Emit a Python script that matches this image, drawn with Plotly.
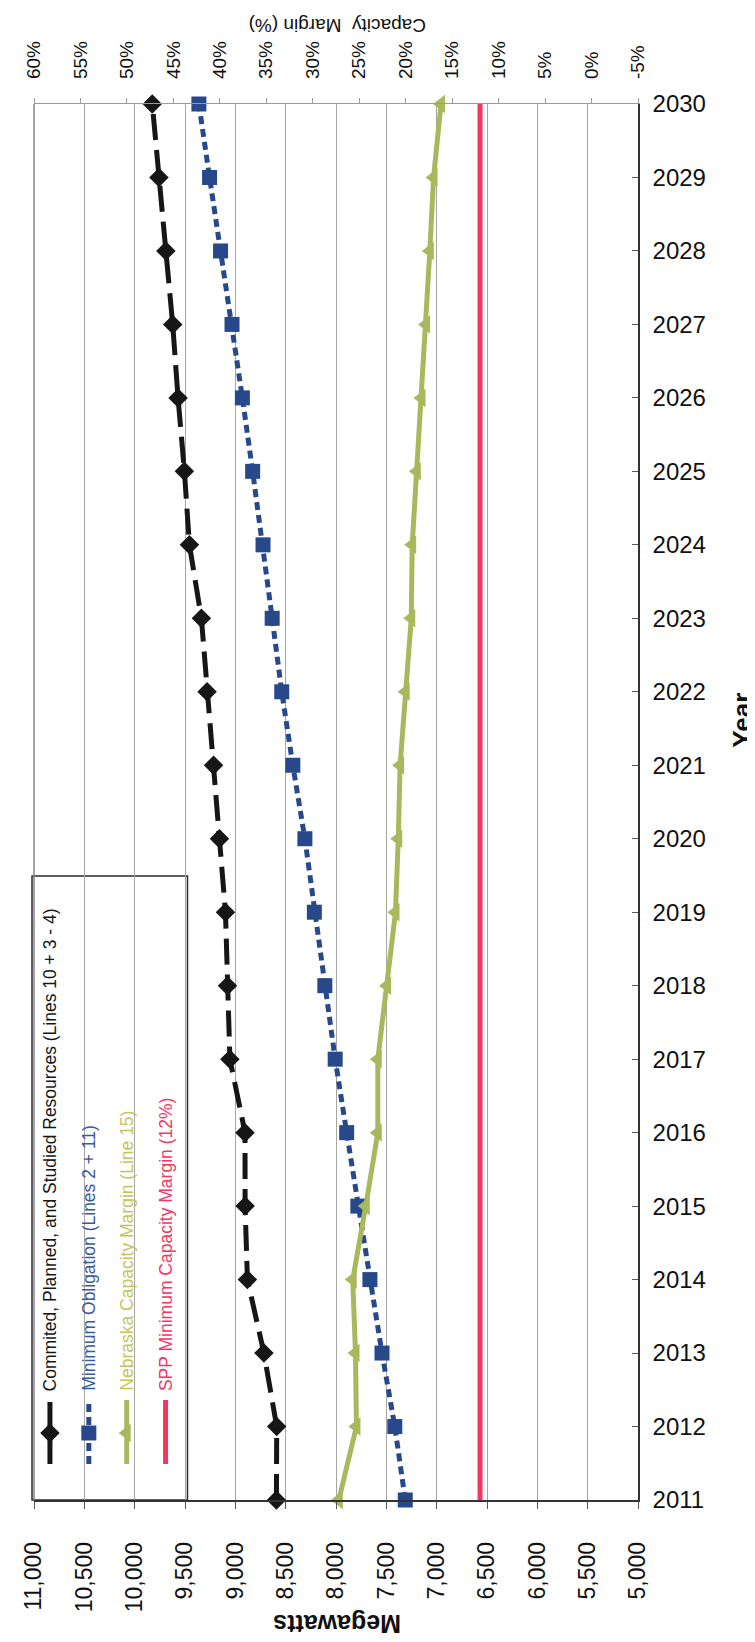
import plotly.graph_objects as go

# ---------------- data ----------------
years = [2011, 2012, 2013, 2014, 2015, 2016, 2017, 2018, 2019, 2020,
         2021, 2022, 2023, 2024, 2025, 2026, 2027, 2028, 2029, 2030]
resources_mw = [8592, 8589, 8716, 8880, 8903, 8904, 9054, 9078, 9098, 9158,
                9216, 9281, 9337, 9456, 9506, 9569, 9622, 9690, 9759, 9825]
obligation_mw = [7312, 7416, 7543, 7663, 7783, 7894, 8008, 8111, 8215, 8309,
                 8429, 8539, 8634, 8725, 8828, 8930, 9033, 9147, 9256, 9362]
nebraska_margin_pct = [27.2, 25.3, 25.4, 25.7, 24.3, 23.0, 23.0, 22.0, 21.1, 20.8,
                       20.6, 20.0, 19.4, 19.3, 18.8, 18.3, 17.8, 17.4, 17.0, 16.2]
spp_min_margin_pct = [12, 12, 12, 12, 12, 12, 12, 12, 12, 12,
                      12, 12, 12, 12, 12, 12, 12, 12, 12, 12]

mw_ticks = [11000, 10500, 10000, 9500, 9000, 8500, 8000, 7500, 7000, 6500, 6000, 5500, 5000]
mw_labels = ["11,000", "10,500", "10,000", "9,500", "9,000", "8,500", "8,000",
             "7,500", "7,000", "6,500", "6,000", "5,500", "5,000"]
pct_ticks = [60, 55, 50, 45, 40, 35, 30, 25, 20, 15, 10, 5, 0, -5]
pct_labels = ["60%", "55%", "50%", "45%", "40%", "35%", "30%", "25%", "20%",
              "15%", "10%", "5%", "0%", "-5%"]
year_labels = [str(y) for y in years]

legend_labels = [
    "Commited, Planned, and Studied Resources (Lines 10 + 3 - 4)",
    "Minimum Obligation (Lines 2 + 11)",
    "Nebraska Capacity Margin (Line 15)",
    "SPP Minimum Capacity Margin (12%)",
]

# ---------------- styles ----------------
FONT = "Liberation Sans, Arial, Helvetica, sans-serif"
BLACK = "#161616"
BLUE = "#27498C"
GREEN = "#A8B85C"
RED = "#F5365F"
TXT_BLUE = "#3A5A9C"
TXT_GREEN = "#C4C45A"

styles = [
    dict(line=dict(color=BLACK, width=5, dash="26px,10px"),
         marker=dict(symbol="diamond", size=15, color=BLACK), mode="lines+markers"),
    dict(line=dict(color=BLUE, width=5, dash="8px,5px"),
         marker=dict(symbol="square", size=15, color=BLUE), mode="lines+markers"),
    dict(line=dict(color=GREEN, width=5),
         marker=dict(symbol="triangle-left", size=16, color=GREEN), mode="lines+markers"),
    dict(line=dict(color=RED, width=5), mode="lines"),
]

fig = go.Figure()

fig.add_trace(go.Scatter(x=resources_mw, y=years, xaxis="x", yaxis="y",
                         cliponaxis=False, **styles[0]))
fig.add_trace(go.Scatter(x=obligation_mw, y=years, xaxis="x", yaxis="y",
                         cliponaxis=False, **styles[1]))
fig.add_trace(go.Scatter(x=nebraska_margin_pct, y=years, xaxis="x2", yaxis="y",
                         cliponaxis=False, **styles[2]))
fig.add_trace(go.Scatter(x=spp_min_margin_pct, y=years, xaxis="x2", yaxis="y",
                         cliponaxis=False, **styles[3]))

# ---------------- rotated legend (drawn manually) ----------------
W, H = 606.0, 1396.0
L, B = 24.0, 1492.0
def px_x(p):
    return (p - L) / W
def px_y(p):
    return (B - p) / H

legend_cols = [40, 79, 117, 156]
legend_text_colors = [BLACK, TXT_BLUE, TXT_GREEN, RED]
sample_top, sample_bot, sample_mid, text_start = 1392, 1456, 1425, 1385

for i, col in enumerate(legend_cols):
    st = styles[i]
    fig.add_trace(go.Scatter(x=[px_x(col), px_x(col)], y=[px_y(sample_bot), px_y(sample_top)],
                             xaxis="x3", yaxis="y3", mode="lines", line=st["line"],
                             hoverinfo="skip", cliponaxis=False))
    if "marker" in st:
        fig.add_trace(go.Scatter(x=[px_x(col)], y=[px_y(sample_mid)], xaxis="x3", yaxis="y3",
                                 mode="markers", marker=st["marker"], hoverinfo="skip",
                                 cliponaxis=False))

annotations = []
for i, col in enumerate(legend_cols):
    annotations.append(dict(text=legend_labels[i], xref="paper", yref="paper",
                            x=px_x(col), y=px_y(text_start), xanchor="center", yanchor="bottom",
                            textangle=-90, showarrow=False,
                            font=dict(family=FONT, size=17.5, color=legend_text_colors[i])))

annotations.append(dict(text="<b>Megawatts</b>", xref="paper", yref="paper",
                        x=px_x(328), y=px_y(1616), xanchor="center", yanchor="middle",
                        textangle=180, showarrow=False,
                        font=dict(family=FONT, size=25, color="#111")))
annotations.append(dict(text="Capacity  Margin (%)", xref="paper", yref="paper",
                        x=px_x(328), y=px_y(17), xanchor="center", yanchor="middle",
                        textangle=180, showarrow=False,
                        font=dict(family=FONT, size=19, color="#111")))
annotations.append(dict(text="<b>Year</b>", xref="paper", yref="paper",
                        x=px_x(734), y=px_y(712), xanchor="center", yanchor="middle",
                        textangle=-90, showarrow=False,
                        font=dict(family=FONT, size=26, color="#111")))

shapes = [
    # legend box (covers gridlines, under traces)
    dict(type="rect", xref="paper", yref="paper", x0=px_x(22), x1=px_x(178),
         y0=0, y1=px_y(868), line=dict(color="#2a2a2a", width=1.5),
         fillcolor="white", layer="between"),
    # left border of plot area
    dict(type="line", xref="paper", yref="paper", x0=0, x1=0, y0=0, y1=1,
         line=dict(color="#8a8090", width=1.5), layer="above"),
]

fig.update_layout(
    width=755, height=1642,
    margin=dict(l=24, r=125, t=96, b=150, pad=0),
    paper_bgcolor="white", plot_bgcolor="white",
    showlegend=False,
    font=dict(family=FONT, color="#111"),
    xaxis=dict(range=[11000, 5000], tickmode="array", tickvals=mw_ticks, ticktext=mw_labels,
               tickangle=-90, tickfont=dict(family=FONT, size=23, color="#111"),
               showgrid=True, gridcolor="#A6A6A6", gridwidth=1, zeroline=False,
               showline=True, linecolor="#333333", linewidth=1.5,
               ticks="outside", ticklen=7, tickcolor="#555555", ticklabelstandoff=24),
    xaxis2=dict(range=[60, -5], overlaying="x", side="top", tickmode="array",
                tickvals=pct_ticks, ticktext=pct_labels, tickangle=-90,
                tickfont=dict(family=FONT, size=19, color="#111"),
                showgrid=False, zeroline=False, showline=True, linecolor="#9a9a9a",
                linewidth=1.2, ticks="outside", ticklen=5, tickcolor="#9a9a9a",
                ticklabelstandoff=15),
    yaxis=dict(range=[2011, 2030], side="right", tickmode="array", tickvals=years,
               ticktext=year_labels, tickfont=dict(family=FONT, size=24, color="#111"),
               showgrid=False, zeroline=False, showline=True, linecolor="#333333",
               linewidth=1.5, ticks="inside", ticklen=6, tickcolor="#555555",
               ticklabelstandoff=8),
    xaxis3=dict(range=[0, 1], overlaying="x", visible=False),
    yaxis3=dict(range=[0, 1], overlaying="y", visible=False),
    annotations=annotations,
    shapes=shapes,
)

fig.write_html("out.html")
